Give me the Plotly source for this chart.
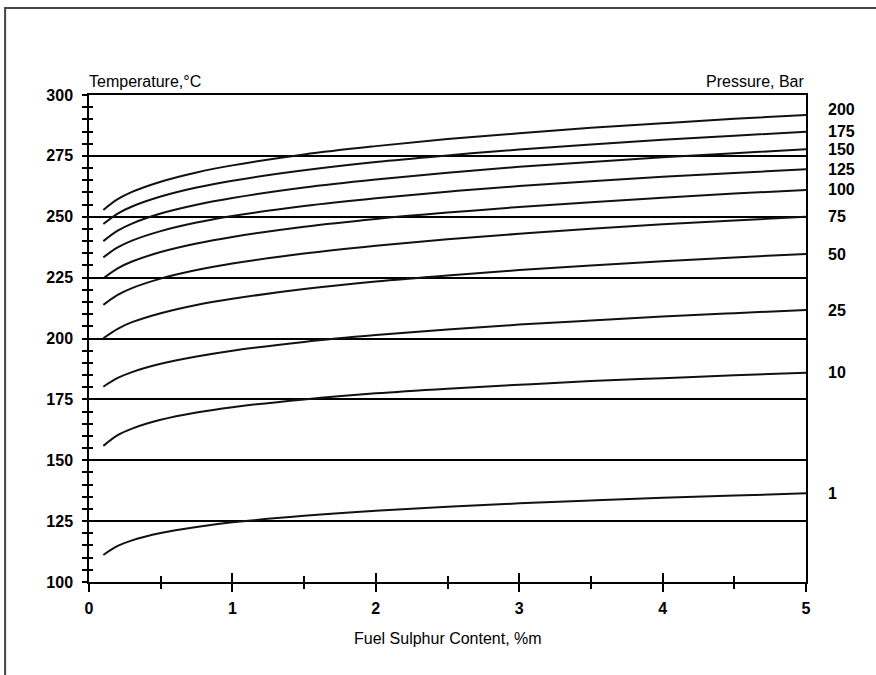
import plotly.graph_objects as go

# Fuel sulphur content, %m
sulphur = [0.1, 0.2, 0.3, 0.5, 0.75, 1.0, 1.5, 2.0, 2.5, 3.0, 3.5, 4.0, 4.5, 5.0]

# Acid dew-point temperature (deg C) for each pressure (bar)
p200 = [252.8, 257.2, 260.2, 264.4, 268.2, 271.1, 275.6, 279.0, 281.9, 284.3, 286.5, 288.4, 290.2, 291.8]
p175 = [247.0, 251.3, 254.2, 258.3, 262.0, 264.8, 269.1, 272.5, 275.2, 277.6, 279.7, 281.6, 283.3, 284.9]
p150 = [240.0, 244.3, 247.2, 251.3, 254.9, 257.7, 262.0, 265.3, 268.1, 270.5, 272.5, 274.4, 276.1, 277.7]
p125 = [233.3, 237.4, 240.2, 244.1, 247.6, 250.3, 254.4, 257.6, 260.3, 262.6, 264.6, 266.4, 268.0, 269.5]
p100 = [224.7, 228.8, 231.6, 235.5, 239.0, 241.7, 245.9, 249.1, 251.7, 254.0, 256.0, 257.8, 259.5, 261.0]
p75 = [213.8, 217.9, 220.7, 224.6, 228.1, 230.8, 234.9, 238.1, 240.8, 243.0, 245.1, 246.9, 248.5, 250.0]
p50 = [200.1, 204.0, 206.7, 210.4, 213.8, 216.3, 220.3, 223.4, 225.9, 228.1, 230.0, 231.7, 233.3, 234.7]
p25 = [180.2, 183.8, 186.2, 189.6, 192.6, 195.0, 198.6, 201.4, 203.7, 205.7, 207.4, 209.0, 210.4, 211.7]
p10 = [155.9, 160.3, 163.0, 166.6, 169.6, 171.8, 175.0, 177.5, 179.4, 181.0, 182.5, 183.7, 184.9, 185.9]
p1 = [111.1, 114.8, 117.1, 120.1, 122.6, 124.5, 127.2, 129.3, 130.9, 132.3, 133.5, 134.6, 135.5, 136.4]

pressure_labels = ["200", "175", "150", "125", "100", "75", "50", "25", "10", "1"]
series = [p200, p175, p150, p125, p100, p75, p50, p25, p10, p1]

x_ticks = [0, 1, 2, 3, 4, 5]
y_ticks = [100, 125, 150, 175, 200, 225, 250, 275, 300]

FONT = "Liberation Sans, Arial, sans-serif"

fig = go.Figure()
for name, vals in zip(pressure_labels, series):
    fig.add_trace(go.Scatter(x=sulphur, y=vals, mode="lines", name=name,
                             line=dict(color="#111111", width=2, shape="spline"),
                             hoverinfo="skip"))

# invisible trace to host the overlay axes (inside ticks)
fig.add_trace(go.Scatter(x=sulphur, y=p1, xaxis="x2", yaxis="y2", mode="lines",
                         line=dict(width=0), opacity=0, hoverinfo="skip", showlegend=False))

for name, vals in zip(pressure_labels, series):
    fig.add_annotation(x=1.028, xref="paper", y=vals[-1], yref="y", text=name,
                       showarrow=False, xanchor="left", yanchor="middle",
                       yshift=5 if name == "200" else 0,
                       font=dict(family=FONT, size=16, color="black", weight="bold"))

fig.add_annotation(x=0, xref="paper", y=1.0, yref="paper", text="Temperature,°C",
                   showarrow=False, xanchor="left", yanchor="bottom", yshift=3, xshift=-2,
                   font=dict(family=FONT, size=16, color="black"))
fig.add_annotation(x=1, xref="paper", y=1.0, yref="paper", text="Pressure, Bar",
                   showarrow=False, xanchor="right", yanchor="bottom", yshift=3,
                   font=dict(family=FONT, size=16, color="black"))
fig.add_annotation(x=0.5, xref="paper", y=-0.117, yref="paper", text="Fuel Sulphur Content, %m",
                   showarrow=False, xanchor="center", yanchor="middle",
                   font=dict(family=FONT, size=16, color="black"))

# outer frame
fig.add_shape(type="rect", xref="paper", yref="paper", x0=-0.117, x1=1.3, y0=-0.4, y1=1.1786,
              line=dict(color="#444444", width=2), fillcolor="rgba(0,0,0,0)", layer="below")

tickfont = dict(family=FONT, size=16, color="black", weight="bold")

fig.update_layout(
    width=876, height=675,
    margin=dict(l=89, r=70, t=95, b=93),
    paper_bgcolor="white", plot_bgcolor="white",
    showlegend=False,
    xaxis=dict(range=[0, 5], tickvals=x_ticks, ticks="outside", ticklen=8, tickwidth=1.5,
               tickcolor="black", showgrid=False, zeroline=False,
               showline=True, linecolor="black", linewidth=1.5, mirror=True,
               tickfont=tickfont, ticklabelstandoff=3,
               minor=dict(dtick=0.5, tick0=0, ticks="outside", ticklen=5, tickwidth=1.5,
                          tickcolor="black", showgrid=False)),
    yaxis=dict(range=[100, 300], tickvals=y_ticks, ticks="outside", ticklen=5, tickwidth=1.5,
               tickcolor="black", showgrid=True, gridcolor="black", gridwidth=1.5,
               zeroline=False, showline=True, linecolor="black", linewidth=1.5, mirror=True,
               tickfont=tickfont, ticklabelstandoff=6,
               minor=dict(dtick=5, tick0=100, ticks="outside", ticklen=5, tickwidth=1.5,
                          tickcolor="black", showgrid=False)),
    xaxis2=dict(overlaying="x", matches="x", anchor="y2", side="bottom", range=[0, 5],
                tickvals=x_ticks, ticks="inside", ticklen=9, tickwidth=1.5, tickcolor="black",
                showticklabels=False, showgrid=False, zeroline=False, showline=False,
                minor=dict(dtick=0.5, tick0=0, ticks="inside", ticklen=6, tickwidth=1.5,
                           tickcolor="black", showgrid=False)),
    yaxis2=dict(overlaying="y", matches="y", anchor="x2", side="left", range=[100, 300],
                tickvals=y_ticks, ticks="inside", ticklen=4, tickwidth=1.5, tickcolor="black",
                showticklabels=False, showgrid=False, zeroline=False, showline=False,
                minor=dict(dtick=5, tick0=100, ticks="inside", ticklen=4, tickwidth=1.5,
                           tickcolor="black", showgrid=False)),
)

fig.write_html("out.html", config={"displayModeBar": False},
               post_script="document.body.style.margin='0';")
